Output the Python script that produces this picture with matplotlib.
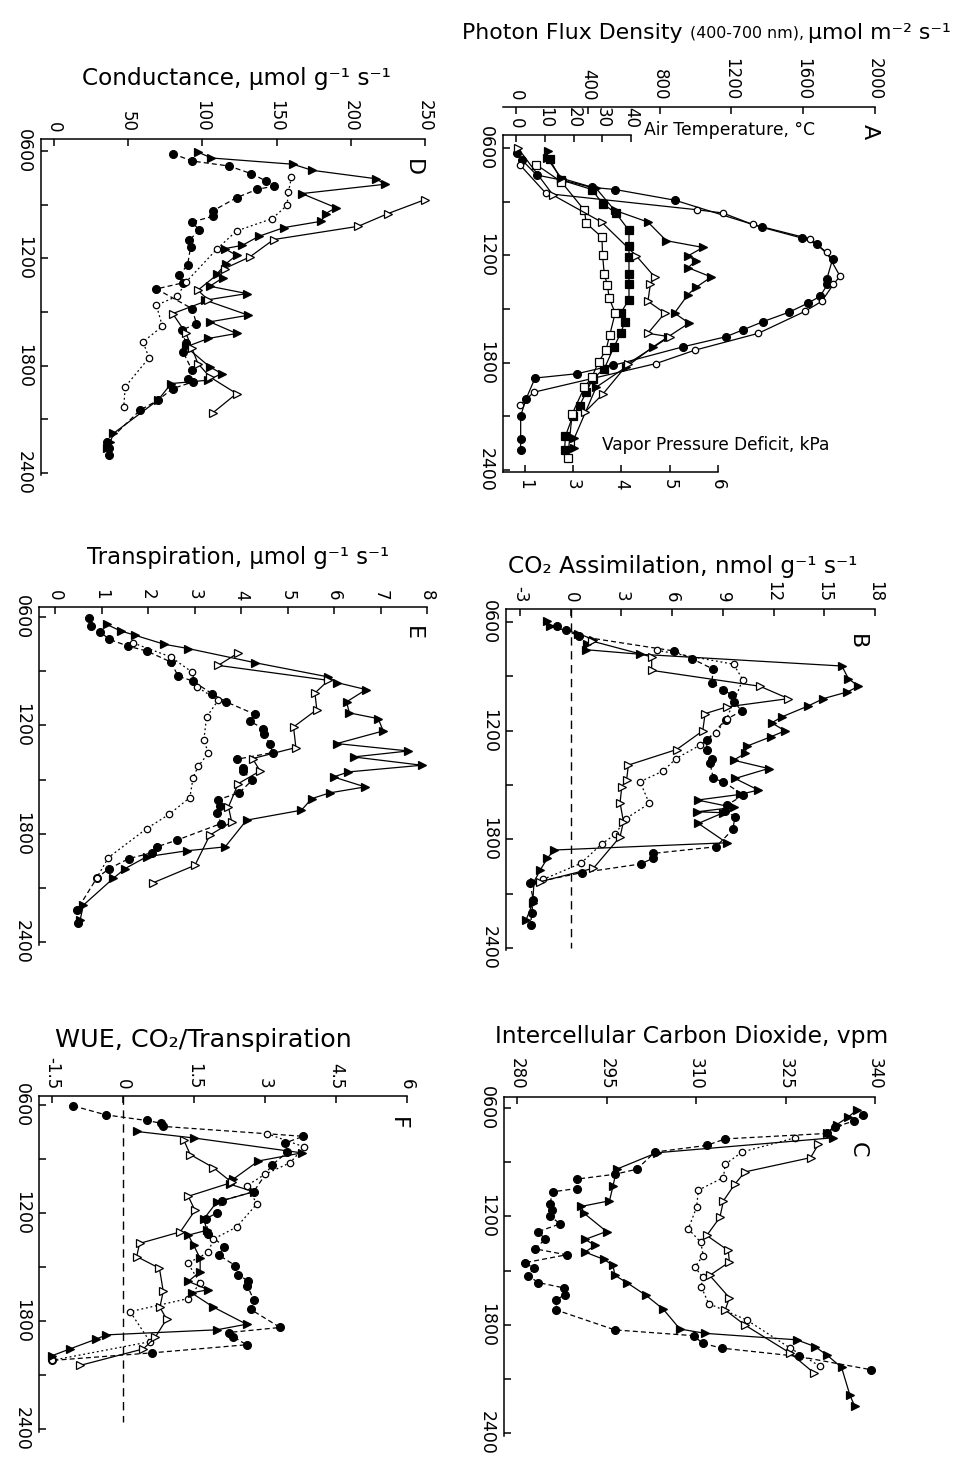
import matplotlib
matplotlib.use("Agg")
import matplotlib.pyplot as plt

W, H = 959, 1459

TIME_TICKS = [6, 9, 12, 15, 18, 21, 24]
TIME_LABELS = ["0600", "", "1200", "", "1800", "", "2400"]

# ---- panel A: (hour, value) ----
A_PHOTON_FILLED = [(6.28, 4), (6.66, 32), (7.51, 115), (7.79, 254), (8.20, 422), (8.32, 552),
                   (8.92, 886), (10.43, 1369), (11.03, 1591), (11.37, 1675), (12.21, 1764),
                   (13.34, 1731), (13.63, 1735), (14.29, 1694), (14.66, 1629), (15.17, 1523),
                   (15.70, 1378), (16.17, 1263), (16.55, 1170), (17.11, 932), (18.15, 542),
                   (18.62, 338), (18.86, 106), (20.03, 56), (20.97, 26), (22.29, 26), (22.86, 26)]
A_PHOTON_OPEN = [(6.94, 22), (8.54, 167), (9.45, 1006), (9.63, 1151), (10.27, 1318),
                 (11.08, 1638), (11.84, 1731), (13.16, 1805), (13.63, 1768), (14.57, 1703),
                 (15.13, 1610), (16.36, 1350), (17.30, 997), (18.05, 780), (19.65, 100), (20.37, 22)]
A_TEMP_FILLED = [(6.62, 11.7), (7.79, 15.7), (8.32, 26.4), (9.11, 30.1), (9.63, 34.7),
                 (10.61, 39.3), (11.46, 39.3), (12.12, 39.3), (13.06, 39.3), (13.63, 39.3),
                 (14.47, 39.3), (15.23, 36.4), (15.70, 37.9), (16.36, 36.4), (17.11, 34.1),
                 (18.34, 30.7), (18.90, 26.7), (19.65, 24.4), (20.41, 22.1), (20.97, 19.8),
                 (22.10, 17.2), (22.86, 16.9)]
A_TEMP_OPEN = [(6.94, 7.1), (7.88, 15.7), (9.48, 23.8), (10.20, 24.4), (10.99, 29.9),
               (11.97, 30.1), (13.06, 30.7), (13.66, 31.8), (14.38, 32.4), (15.23, 34.5),
               (16.45, 32.6), (17.30, 31.3), (17.96, 28.7), (18.81, 26.4), (19.37, 23.8),
               (20.88, 19.5), (23.33, 18.0)]
A_VPD_FILLED = [(6.19, 2.48), (6.56, 2.46), (7.69, 2.76), (8.26, 3.48), (9.48, 3.86),
                (10.14, 4.55), (11.18, 4.93), (11.56, 5.69), (12.03, 5.38), (12.31, 5.54),
                (12.69, 5.38), (13.21, 5.86), (13.78, 5.55), (14.19, 5.38), (15.23, 5.10),
                (15.79, 5.40), (16.55, 4.97), (17.11, 4.66), (18.24, 4.10), (19.37, 3.48),
                (22.20, 3.03), (22.76, 3.03)]
A_VPD_OPEN = [(6.0, 1.86), (8.64, 2.59), (10.14, 3.59), (12.03, 4.31), (13.21, 4.69),
              (13.63, 4.60), (14.57, 4.55), (15.23, 4.90), (16.36, 4.55), (16.55, 5.00),
              (18.05, 4.14), (19.75, 3.62), (20.78, 3.24)]
PHOTON_TICKS = [0, 400, 800, 1200, 1600, 2000]
TEMP_TICKS = [0, 10, 20, 30, 40]
VPD_TICKS = [2, 3, 4, 5, 6]
VPD_LABELS = ["1", "3", "4", "5", "6"]

# ---- panel B: CO2 assimilation ----
B_FILLED_CIRCLES = [(6.24, -0.83), (6.46, -0.28), (6.79, 0.51), (7.60, 6.11), (8.02, 7.16),
                    (8.61, 8.44), (9.35, 8.34), (9.73, 9.03), (10.04, 9.53), (10.41, 9.66),
                    (10.91, 10.12), (11.39, 9.17), (12.53, 8.05), (13.04, 8.05), (13.59, 8.34),
                    (13.81, 8.24), (14.64, 8.44), (14.82, 9.03), (15.56, 10.22), (16.11, 9.23),
                    (16.44, 9.13), (16.75, 9.72), (17.45, 9.59), (18.41, 8.60), (18.78, 4.85),
                    (19.05, 4.85), (19.36, 4.14), (19.84, 0.65), (20.43, -2.41), (21.35, -2.21),
                    (22.08, -2.31), (22.73, -2.37)]
B_OPEN_CIRCLES = [(7.56, 5.09), (8.33, 9.63), (9.18, 10.18), (11.33, 9.23), (12.12, 8.60),
                  (12.80, 7.65), (13.54, 6.23), (14.22, 5.48), (14.82, 4.10), (16.02, 4.65),
                  (16.85, 3.27), (17.73, 2.62), (18.26, 1.83), (19.33, 0.59), (20.21, -1.62)]
B_FILLED_TRI = [(5.94, -1.38), (6.24, -1.22), (6.64, 0.45), (6.97, 1.34), (7.23, 0.95),
                (7.53, 0.91), (7.78, 4.10), (8.43, 16.04), (9.13, 16.43), (9.55, 17.02),
                (9.86, 16.37), (10.23, 14.95), (10.63, 14.06), (11.24, 12.49), (11.57, 11.89),
                (12.01, 12.68), (12.34, 11.83), (12.86, 10.41), (13.26, 10.32), (13.63, 9.63),
                (14.09, 11.70), (14.64, 9.72), (15.28, 11.10), (15.52, 10.02), (15.83, 7.50),
                (16.24, 9.63), (16.48, 7.46), (16.53, 9.03), (17.12, 7.55), (18.19, 9.23),
                (18.59, -0.99), (19.05, -1.38), (19.70, -1.81), (20.34, -2.17), (21.53, -2.25),
                (22.45, -2.64)]
B_OPEN_TRI = [(7.05, 1.24), (7.93, 4.79), (8.67, 4.79), (9.55, 11.20), (10.23, 12.88),
              (10.69, 9.23), (11.06, 7.95), (12.01, 7.81), (13.04, 6.27), (13.90, 3.41),
              (14.70, 3.31), (15.10, 3.02), (15.98, 2.92), (17.03, 3.12), (17.86, 2.92),
              (19.60, 1.34), (20.34, -1.81)]
B_TICKS = [-3, 0, 3, 6, 9, 12, 15, 18]

# ---- panel C: intercellular CO2 ----
C_FILLED_CIRCLES = [(6.37, 338.0), (6.73, 336.4), (7.05, 333.3), (7.41, 331.9), (7.71, 314.9),
                    (8.07, 311.8), (8.44, 303.1), (9.39, 300.1), (9.67, 296.4), (9.94, 290.0),
                    (10.46, 290.0), (10.64, 286.0), (11.32, 285.5), (11.63, 285.8), (11.96, 285.5),
                    (12.42, 287.2), (12.84, 283.6), (13.28, 284.7), (13.80, 283.0), (14.13, 288.3),
                    (14.57, 281.3), (14.86, 282.8), (15.30, 281.9), (15.67, 283.6), (15.96, 287.8),
                    (16.33, 288.0), (16.64, 286.6), (17.19, 286.6), (18.29, 296.4), (18.61, 309.6),
                    (19.03, 311.1), (19.30, 314.3), (19.76, 327.2), (20.50, 339.4)]
C_OPEN_CIRCLES = [(7.65, 326.6), (8.44, 317.7), (9.12, 314.9), (9.85, 314.6), (10.55, 310.4),
                  (11.50, 310.1), (12.70, 308.7), (13.43, 310.8), (14.17, 311.2), (14.81, 309.8),
                  (15.36, 311.1), (15.91, 310.9), (16.83, 312.1), (17.74, 318.5), (19.30, 325.8),
                  (20.31, 330.8)]
C_FILLED_TRI = [(6.13, 336.9), (6.50, 335.5), (6.92, 333.6), (7.38, 331.9), (7.65, 333.0),
                (8.48, 303.4), (9.39, 296.7), (10.31, 296.1), (11.14, 295.5), (11.45, 290.8),
                (11.82, 291.2), (12.84, 295.0), (13.28, 291.4), (13.61, 293.1), (13.98, 291.4),
                (14.39, 294.6), (14.72, 296.1), (15.27, 296.4), (15.67, 298.4), (16.37, 301.6),
                (17.14, 304.5), (18.24, 307.3), (18.48, 311.5), (18.84, 326.9), (19.21, 329.9),
                (19.67, 331.9), (20.37, 334.4), (21.91, 335.8), (22.51, 336.6)]
C_OPEN_TRI = [(8.02, 330.5), (8.75, 329.2), (9.54, 318.2), (10.22, 316.5), (11.14, 314.6),
              (12.06, 314.0), (13.06, 311.8), (13.89, 315.4), (14.53, 315.6), (15.27, 312.3),
              (16.51, 315.6), (17.19, 314.9), (18.02, 318.2), (19.58, 325.8), (20.68, 329.8)]
C_TICKS = [280, 295, 310, 325, 340]

# ---- panel D: conductance ----
D_FILLED_CIRCLES = [(6.15, 80), (6.56, 93), (6.84, 118), (7.27, 133), (7.68, 143), (7.97, 148),
                    (8.14, 137), (8.61, 123), (9.35, 107), (9.65, 107), (9.97, 93), (10.43, 98),
                    (10.99, 91), (11.38, 92), (12.39, 90), (12.95, 84), (13.37, 87), (13.71, 69),
                    (14.81, 93), (15.65, 96), (16.02, 86), (16.76, 89), (17.23, 87), (18.25, 93),
                    (18.76, 90), (18.90, 94), (19.28, 80), (19.93, 70), (20.49, 58), (22.26, 36),
                    (22.63, 37), (23.00, 37)]
D_OPEN_CIRCLES = [(7.45, 160), (8.29, 158), (9.04, 157), (9.78, 147), (10.47, 123), (11.46, 110),
                  (13.32, 89), (14.12, 83), (14.62, 69), (15.80, 73), (16.67, 60), (17.56, 64),
                  (19.18, 48), (20.30, 47)]
D_FILLED_TRI = [(6.06, 97), (6.39, 106), (6.74, 161), (7.08, 174), (7.55, 217), (7.86, 223),
                (8.38, 167), (9.17, 190), (9.50, 183), (9.93, 180), (10.28, 155), (10.77, 138),
                (11.27, 127), (11.46, 115), (11.83, 123), (12.29, 116), (12.85, 110), (13.08, 114),
                (13.56, 105), (13.97, 130), (14.34, 102), (15.18, 131), (15.55, 105), (16.20, 123),
                (16.48, 104), (16.95, 89), (18.07, 105), (18.44, 113), (18.81, 104), (19.00, 79),
                (19.93, 70), (21.79, 40), (22.26, 38), (22.63, 36)]
D_OPEN_TRI = [(8.72, 250), (9.50, 225), (10.21, 205), (10.95, 148), (11.92, 132), (12.57, 115),
              (13.78, 97), (14.34, 104), (15.09, 80), (16.20, 89), (17.04, 93), (17.88, 97),
              (18.63, 105), (19.56, 123), (20.64, 107)]
D_TICKS = [0, 50, 100, 150, 200, 250]

# ---- panel E: transpiration ----
E_FILLED_CIRCLES = [(6.04, 0.74), (6.52, 0.77), (6.83, 0.97), (7.24, 1.17), (7.62, 1.58),
                    (7.88, 1.97), (8.49, 2.49), (9.28, 2.65), (9.54, 2.96), (10.24, 3.37),
                    (10.70, 3.68), (11.39, 4.30), (11.77, 4.19), (12.18, 4.48), (12.46, 4.50),
                    (13.05, 4.62), (13.51, 4.68), (13.88, 3.91), (14.34, 4.05), (14.52, 4.04),
                    (15.04, 4.24), (15.74, 3.96), (16.11, 3.51), (16.48, 3.55), (16.85, 3.49),
                    (17.44, 3.57), (18.36, 2.62), (18.73, 2.19), (19.06, 2.08), (19.38, 1.59),
                    (19.93, 1.17), (20.45, 0.90), (22.24, 0.47), (22.97, 0.50)]
E_OPEN_CIRCLES = [(7.44, 1.68), (8.21, 2.49), (9.04, 2.94), (9.87, 3.05), (10.61, 3.51),
                  (11.54, 3.26), (12.83, 3.20), (13.53, 3.30), (14.27, 3.08), (14.89, 2.97),
                  (16.00, 2.90), (16.92, 2.46), (17.72, 1.97), (19.32, 1.15), (20.43, 0.90)]
E_FILLED_TRI = [(6.41, 1.11), (6.77, 1.41), (7.01, 1.72), (7.51, 2.35), (7.75, 2.87),
                (8.53, 4.30), (9.32, 5.88), (9.63, 6.06), (10.02, 6.69), (10.70, 6.27),
                (11.31, 6.33), (11.63, 6.95), (12.31, 7.06), (13.01, 6.06), (13.42, 7.60),
                (13.75, 6.42), (14.21, 7.89), (14.58, 6.31), (14.86, 5.99), (15.41, 6.67),
                (15.74, 5.91), (16.06, 5.52), (16.70, 5.30), (17.25, 4.12), (18.73, 3.66),
                (18.95, 2.83), (19.28, 1.97), (19.93, 1.51), (20.48, 1.25), (21.96, 0.61),
                (22.79, 0.54)]
E_OPEN_TRI = [(7.99, 3.94), (8.68, 3.51), (9.51, 5.88), (10.21, 5.59), (11.13, 5.63),
              (12.09, 5.13), (13.23, 5.18), (13.84, 4.25), (14.53, 4.41), (15.23, 3.94),
              (16.52, 3.73), (17.35, 3.80), (18.08, 3.33), (19.75, 3.01), (20.72, 2.11)]
E_TICKS = [0, 1, 2, 3, 4, 5, 6, 7, 8]

# ---- panel F: water use efficiency ----
F_FILLED_CIRCLES = [(6.05, -1.05), (6.55, -0.36), (6.86, 0.50), (7.01, 0.80), (7.19, 0.85),
                    (7.74, 3.81), (8.11, 3.42), (8.62, 3.47), (9.35, 3.14), (10.82, 2.76),
                    (11.31, 2.09), (11.99, 1.99), (12.32, 1.75), (13.14, 1.80), (13.88, 2.14),
                    (14.33, 2.02), (14.92, 2.37), (15.43, 2.44), (15.80, 2.65), (16.07, 2.63),
                    (16.81, 2.76), (17.36, 2.70), (18.36, 3.32), (18.64, 2.23), (18.88, 2.33),
                    (19.32, 2.61), (19.77, 0.61), (20.19, -1.49)]
F_OPEN_CIRCLES = [(7.59, 3.04), (8.33, 3.83), (9.21, 3.53), (9.85, 3.00), (10.49, 2.61),
                  (11.49, 2.83), (12.78, 2.40), (13.45, 1.91), (14.19, 1.80), (14.79, 1.37),
                  (15.89, 1.63), (16.75, 1.38), (17.48, 0.15), (19.15, 0.57), (20.19, -1.51)]
F_FILLED_TRI = [(7.47, 0.29), (7.83, 1.49), (8.66, 3.78), (9.11, 2.86), (10.12, 2.33),
                (10.40, 2.26), (10.82, 2.76), (11.40, 1.98), (12.32, 1.71), (12.96, 1.77),
                (13.23, 1.38), (13.78, 1.49), (14.52, 1.63), (15.25, 1.63), (15.80, 1.38),
                (16.26, 1.80), (16.44, 1.45), (17.23, 1.91), (18.18, 2.61), (18.49, 1.98),
                (18.77, -0.35), (19.00, -0.56), (19.55, -1.12), (19.92, -1.49)]
F_OPEN_TRI = [(7.92, 1.28), (8.75, 1.42), (9.48, 1.91), (10.30, 2.30), (11.07, 1.38),
              (11.86, 1.52), (13.05, 1.21), (13.69, 0.35), (14.42, 0.29), (15.07, 0.77),
              (16.35, 0.85), (17.23, 0.78), (17.90, 0.92), (18.91, 0.68), (19.55, 0.43),
              (20.47, -0.91)]
F_TICKS = [-1.5, 0, 1.5, 3, 4.5, 6]
F_LABELS = ["-1.5", "0", "1.5", "3", "4.5", "6"]

DASH = (0, (4, 2.5))
DOT = (0, (1.5, 2.2))
STYLES = {
    "fc": dict(marker="o", ms=5.6, mfc="black", ls=DASH),
    "oc": dict(marker="o", ms=4.6, mfc="white", ls=DOT),
    "ft": dict(marker=">", ms=6.0, mfc="black", ls="-"),
    "ot": dict(marker=">", ms=6.0, mfc="white", ls="-"),
    "fs": dict(marker="s", ms=5.5, mfc="black", ls="-"),
    "os": dict(marker="s", ms=5.5, mfc="white", ls="-"),
}

fig = plt.figure(figsize=(W / 100, H / 100), dpi=100)
fig.patch.set_facecolor("white")
renderer = fig.canvas.get_renderer()


def make_axes(box, xref, yref):
    # box and refs in pixels: ((pixel, value), (pixel, value))
    left, top, right, bottom = box
    (xp0, xv0), (xp1, xv1) = xref
    (yp0, yv0), (yp1, yv1) = yref
    fx = lambda p: xv0 + (p - xp0) * (xv1 - xv0) / (xp1 - xp0)
    fy = lambda p: yv0 + (p - yp0) * (yv1 - yv0) / (yp1 - yp0)
    ax = fig.add_axes([left / W, 1 - bottom / H, (right - left) / W, (bottom - top) / H])
    ax.set_xlim(fx(left), fx(right))
    ax.set_ylim(fy(bottom), fy(top))
    ax.patch.set_alpha(0)
    for s in ax.spines.values():
        s.set_visible(False)
        s.set_linewidth(1.1)
    ax.set_xticks([])
    ax.set_yticks([])
    return ax


def top_axis(ax, ticks, labels=None):
    ax.spines["top"].set_visible(True)
    ax.xaxis.set_ticks_position("top")
    ax.set_xticks(ticks, labels if labels else [str(t) for t in ticks])
    ax.tick_params(axis="x", direction="in", length=5, width=1.1, pad=5,
                   labelsize=12, labelrotation=-90)


def time_axis(ax):
    ax.spines["left"].set_visible(True)
    ax.yaxis.set_ticks_position("left")
    ax.set_yticks(TIME_TICKS, TIME_LABELS)
    ax.tick_params(axis="y", direction="in", length=5, width=1.1, pad=6,
                   labelsize=12.5, labelrotation=-90)
    for lab in ax.get_yticklabels():
        lab.set_verticalalignment("center")


def draw(ax, pts, kind, ls=None):
    st = dict(STYLES[kind])
    if ls is not None:
        st["ls"] = ls
    ax.plot([p[1] for p in pts], [p[0] for p in pts], color="black", mec="black",
            lw=0.9, mew=0.9, clip_on=False, **st)


def fit_text(x0, x1, y, pieces, base=15):
    # pieces: list of (string, relative size); fitted to span x0..x1 pixels
    texts = [fig.text(0, 0, s, fontsize=base * r, va="center", ha="left") for s, r in pieces]
    total = sum(t.get_window_extent(renderer).width for t in texts)
    k = (x1 - x0) / total
    x = x0
    for t, (s, r) in zip(texts, pieces):
        t.set_fontsize(base * r * k)
        t.set_position((x / W, 1 - y / H))
        x += t.get_window_extent(renderer).width


def letter(x, y, s):
    fig.text(x / W, 1 - y / H, s, fontsize=16, rotation=-90, ha="center", va="center")


# ---- A ----
tA = ((148, 6), (470, 24))
axP = make_axes((503, 107, 875, 472), ((516, 0), (875, 2000)), tA)
top_axis(axP, PHOTON_TICKS)
axT = make_axes((503, 135, 631, 472), ((516, 0), (631, 40)), tA)
top_axis(axT, TEMP_TICKS)
time_axis(axT)
axV = make_axes((503, 135, 718, 472), ((573, 3), (718, 6)), tA)
axV.spines["bottom"].set_visible(True)
axV.set_xticks(VPD_TICKS, VPD_LABELS)
axV.tick_params(axis="x", direction="in", length=5, width=1.1, pad=5,
                labelsize=12, labelrotation=-90)
draw(axP, A_PHOTON_FILLED, "fc", ls="-")
draw(axP, A_PHOTON_OPEN, "oc", ls="-")
draw(axT, A_TEMP_FILLED, "fs")
draw(axT, A_TEMP_OPEN, "os")
draw(axV, A_VPD_FILLED, "ft")
draw(axV, A_VPD_OPEN, "ot")
fit_text(462, 952, 33, [("Photon Flux Density ", 1.0), ("(400-700 nm), ", 0.72),
                        ("μmol m⁻² s⁻¹", 1.0)])
fit_text(644, 815, 130, [("Air Temperature, °C", 1.0)])
fit_text(602, 830, 445, [("Vapor Pressure Deficit, kPa", 1.0)])
letter(870, 132, "A")

# ---- B ----
axB = make_axes((506, 609, 875, 950), ((520, -3), (875, 18)), ((622, 6), (948, 24)))
top_axis(axB, B_TICKS)
time_axis(axB)
axB.plot([0, 0], [axB.get_ylim()[1], 24], color="black", lw=1.0, ls=(0, (6, 4)))
draw(axB, B_FILLED_CIRCLES, "fc")
draw(axB, B_OPEN_CIRCLES, "oc")
draw(axB, B_FILLED_TRI, "ft")
draw(axB, B_OPEN_TRI, "ot")
fit_text(508, 858, 567, [("CO₂ Assimilation, nmol g⁻¹ s⁻¹", 1.0)])
letter(857, 642, "B")

# ---- C ----
axC = make_axes((504, 1097, 875, 1436), ((517, 280), (875, 340)), ((1108, 6), (1433, 24)))
top_axis(axC, C_TICKS)
time_axis(axC)
draw(axC, C_FILLED_CIRCLES, "fc")
draw(axC, C_OPEN_CIRCLES, "oc")
draw(axC, C_FILLED_TRI, "ft")
draw(axC, C_OPEN_TRI, "ot")
fit_text(495, 888, 1037, [("Intercellular Carbon Dioxide, vpm", 1.0)])
letter(858, 1150, "C")

# ---- D ----
axD = make_axes((41, 139, 425, 475), ((54, 0), (425, 250)), ((151, 6), (473, 24)))
top_axis(axD, D_TICKS)
time_axis(axD)
draw(axD, D_FILLED_CIRCLES, "fc")
draw(axD, D_OPEN_CIRCLES, "oc")
draw(axD, D_FILLED_TRI, "ft")
draw(axD, D_OPEN_TRI, "ot")
fit_text(82, 390, 78, [("Conductance, μmol g⁻¹ s⁻¹", 1.0)])
letter(413, 168, "D")

# ---- E ----
axE = make_axes((39, 607, 427, 945), ((55, 0), (427, 8)), ((617, 6), (942, 24)))
top_axis(axE, E_TICKS)
time_axis(axE)
draw(axE, E_FILLED_CIRCLES, "fc")
draw(axE, E_OPEN_CIRCLES, "oc")
draw(axE, E_FILLED_TRI, "ft")
draw(axE, E_OPEN_TRI, "ot")
fit_text(87, 390, 558, [("Transpiration, μmol g⁻¹ s⁻¹", 1.0)])
letter(413, 633, "E")

# ---- F ----
axF = make_axes((39, 1096, 407, 1432), ((52, -1.5), (407, 6)), ((1105, 6), (1429, 24)))
top_axis(axF, F_TICKS, F_LABELS)
time_axis(axF)
axF.plot([0, 0], [axF.get_ylim()[1], 23.6], color="black", lw=1.0, ls=(0, (6, 4)))
draw(axF, F_FILLED_CIRCLES, "fc")
draw(axF, F_OPEN_CIRCLES, "oc")
draw(axF, F_FILLED_TRI, "ft")
draw(axF, F_OPEN_TRI, "ot")
fit_text(55, 353, 1040, [("WUE, CO₂/Transpiration", 1.0)])
letter(398, 1123, "F")

fig.savefig("out.png", dpi=100)
